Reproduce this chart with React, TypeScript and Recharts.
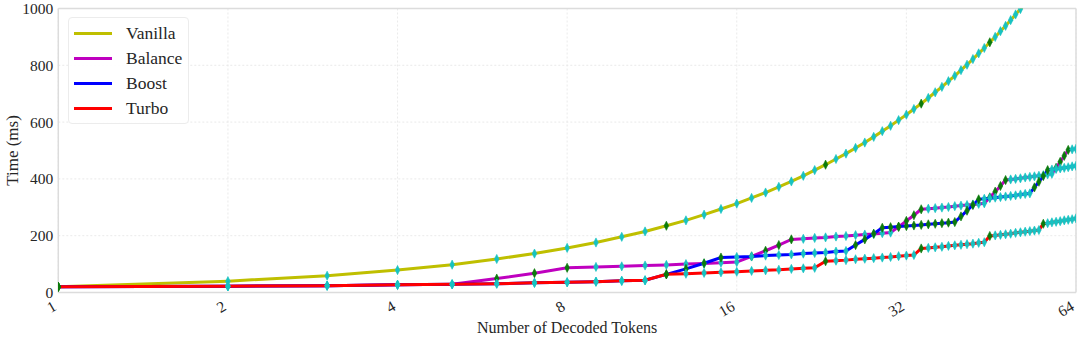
import React from 'react';
import { LineChart, Line, XAxis, YAxis, CartesianGrid, Legend, ReferenceLine } from 'recharts';

const tokens = [
  1, 2, 3, 4, 5, 6, 7, 8, 9, 10, 11, 12, 13, 14, 15, 16,
  17, 18, 19, 20, 21, 22, 23, 24, 25, 26, 27, 28, 29, 30, 31, 32,
  33, 34, 35, 36, 37, 38, 39, 40, 41, 42, 43, 44, 45, 46, 47, 48,
  49, 50, 51, 52, 53, 54, 55, 56, 57, 58, 59, 60, 61, 62, 63, 64,
];

const vanilla = [
  20, 40, 59, 79, 98, 118, 137, 157, 176, 196, 215, 235, 254, 274, 294, 313,
  333, 352, 372, 391, 411, 431, 450, 470, 489, 509, 528, 548, 568, 587, 607, 626,
  646, 665, 685, 705, 724, 744, 763, 783, 802, 822, 842, 861, 881, 900, 920, 939,
  959, 979, 998, 1018, 1037, 1057, 1076, 1096, 1116, 1135, 1155, 1174, 1194, 1213, 1233, 1253,
];

const balance = [
  20, 22, 24, 27, 29, 49, 68, 87, 90, 92, 95, 97, 100, 102, 105, 107,
  127, 147, 167, 187, 189, 192, 194, 197, 199, 202, 204, 206, 209, 211, 231, 252,
  272, 293, 295, 297, 299, 301, 304, 306, 308, 310, 312, 314, 335, 355, 375, 396,
  398, 400, 402, 405, 407, 409, 411, 413, 416, 418, 439, 460, 481, 502, 504, 506,
];

const boost = [
  20, 22, 24, 27, 29, 31, 34, 36, 38, 41, 43, 64, 83, 103, 123, 125,
  127, 130, 132, 134, 137, 139, 141, 144, 146, 167, 187, 207, 228, 230, 232, 234,
  236, 238, 240, 242, 244, 246, 248, 268, 288, 308, 328, 330, 332, 334, 336, 338,
  340, 342, 345, 347, 349, 370, 390, 410, 431, 433, 435, 437, 439, 441, 444, 446,
];

const turbo = [
  20, 22, 24, 27, 29, 31, 34, 36, 38, 41, 43, 64, 66, 69, 71, 73,
  76, 78, 80, 83, 85, 87, 110, 112, 114, 117, 119, 121, 123, 125, 128, 130,
  132, 155, 157, 159, 161, 164, 166, 168, 170, 172, 175, 177, 199, 201, 203, 205,
  207, 210, 212, 214, 216, 218, 220, 242, 244, 247, 249, 251, 254, 256, 258, 261,
];

// token counts whose markers are drawn green (the rest are cyan)
const vanillaGreen = [1, 12, 23, 34, 45, 56];
const balanceGreen = [1, 6, 7, 8, 17, 18, 19, 20, 31, 32, 33, 34, 45, 46, 47, 48, 59, 60, 61, 62];
const boostGreen = [
  1, 12, 13, 14, 15, 26, 27, 28, 29, 30, 31, 32, 33, 34, 35, 36, 37, 38, 39, 40, 41, 42, 43,
  54, 55, 56, 57,
];
const turboGreen = [1, 12, 23, 34, 45, 56];

const xTicks = [1, 2, 4, 8, 16, 32, 64];
const yTicks = [0, 200, 400, 600, 800, 1000];

const data = tokens.map((n, i) => ({
  n,
  Vanilla: vanilla[i],
  Balance: balance[i],
  Boost: boost[i],
  Turbo: turbo[i],
}));

const FONT = '"Liberation Serif", "Times New Roman", serif';
const TEXT = '#262626';
const CYAN = '#17c2c2';
const GREEN = '#0b7a0b';

const series = [
  { key: 'Vanilla', color: '#bfbf00', greens: vanillaGreen },
  { key: 'Balance', color: '#bf00bf', greens: balanceGreen },
  { key: 'Boost', color: '#0000ff', greens: boostGreen },
  { key: 'Turbo', color: '#ff0000', greens: turboGreen },
];

const makeDot = (greens: number[]) => (props: any) => {
  const { cx, cy, payload, index } = props;
  if (cx == null || cy == null || Number.isNaN(cx) || Number.isNaN(cy)) {
    return <g key={`e-${index}`} />;
  }
  const fill = greens.includes(payload.n) ? GREEN : CYAN;
  const hw = 2.3;
  const hh = 4.6;
  return (
    <polygon
      key={`d-${index}`}
      points={`${cx},${cy - hh} ${cx + hw},${cy} ${cx},${cy + hh} ${cx - hw},${cy}`}
      fill={fill}
      stroke={fill}
      strokeWidth={0.6}
    />
  );
};

const XTick = (props: any) => {
  const { x, y, payload } = props;
  const label = String(payload.value);
  const fs = 15.5;
  const w = label.length * fs * 0.5;
  const h = fs * 0.92;
  const a = Math.PI / 6;
  const W = w * Math.cos(a) + h * Math.sin(a);
  const H = w * Math.sin(a) + h * Math.cos(a);
  const cx = x - W / 2;
  const cy = y + 6 + H / 2;
  return (
    <text
      x={cx}
      y={cy}
      textAnchor="middle"
      dominantBaseline="central"
      transform={`rotate(-30, ${cx}, ${cy})`}
      fill={TEXT}
      fontSize={fs}
      fontFamily={FONT}
    >
      {label}
    </text>
  );
};

const LegendBox = () => (
  <div
    style={{
      width: 121,
      height: 107,
      boxSizing: 'border-box',
      background: 'rgba(255,255,255,0.92)',
      border: '1px solid #ececec',
      borderRadius: 4,
      paddingTop: 2.5,
      fontFamily: FONT,
    }}
  >
    {series.map((s) => (
      <div key={s.key} style={{ height: 25, position: 'relative' }}>
        <div
          style={{
            position: 'absolute',
            left: 5,
            top: 11,
            width: 38,
            height: 3,
            background: s.color,
          }}
        />
        <span
          style={{
            position: 'absolute',
            left: 57,
            top: 0,
            lineHeight: '25px',
            fontSize: 17.5,
            color: TEXT,
            whiteSpace: 'nowrap',
          }}
        >
          {s.key}
        </span>
      </div>
    ))}
  </div>
);

export default function App() {
  return (
    <div style={{ position: 'absolute', left: 0, top: 0, width: 1080, height: 341, background: '#fff' }}>
      <LineChart
        width={1080}
        height={341}
        data={data}
        margin={{ top: 8.5, right: 4, bottom: 0, left: 0 }}
      >
        <CartesianGrid stroke="#e4e4e4" strokeDasharray="2 2" strokeWidth={0.8} />
        <XAxis
          dataKey="n"
          type="number"
          scale="log"
          domain={[1, 64]}
          ticks={xTicks}
          interval={0}
          allowDataOverflow
          height={48.5}
          tickLine={false}
          tickSize={0}
          tickMargin={0}
          axisLine={{ stroke: '#dcdcdc', strokeWidth: 1.5 }}
          tick={<XTick />}
          label={{
            value: 'Number of Decoded Tokens',
            position: 'insideBottom',
            offset: 8,
            fill: TEXT,
            fontSize: 16,
            fontFamily: FONT,
          }}
        />
        <YAxis
          type="number"
          domain={[0, 1000]}
          ticks={yTicks}
          interval={0}
          allowDataOverflow
          width={58.3}
          tickLine={false}
          tickSize={0}
          tickMargin={5}
          axisLine={{ stroke: '#dcdcdc', strokeWidth: 1.5 }}
          tick={{ fill: TEXT, fontSize: 15.5, fontFamily: FONT }}
          label={{
            value: 'Time (ms)',
            angle: -90,
            position: 'insideLeft',
            offset: 12,
            fill: TEXT,
            fontSize: 17,
            fontFamily: FONT,
            style: { textAnchor: 'middle' },
          }}
        />
        <ReferenceLine y={1000} stroke="#dcdcdc" strokeWidth={1.5} />
        <ReferenceLine x={64} stroke="#dcdcdc" strokeWidth={1.5} />
        {series.map((s) => (
          <Line
            key={s.key}
            dataKey={s.key}
            name={s.key}
            type="linear"
            stroke={s.color}
            strokeWidth={3}
            dot={makeDot(s.greens)}
            activeDot={false}
            isAnimationActive={false}
          />
        ))}
        <Legend
          layout="vertical"
          align="center"
          verticalAlign="middle"
          content={<LegendBox />}
          wrapperStyle={{ left: 68, top: 17, width: 121, height: 107 }}
        />
      </LineChart>
    </div>
  );
}
